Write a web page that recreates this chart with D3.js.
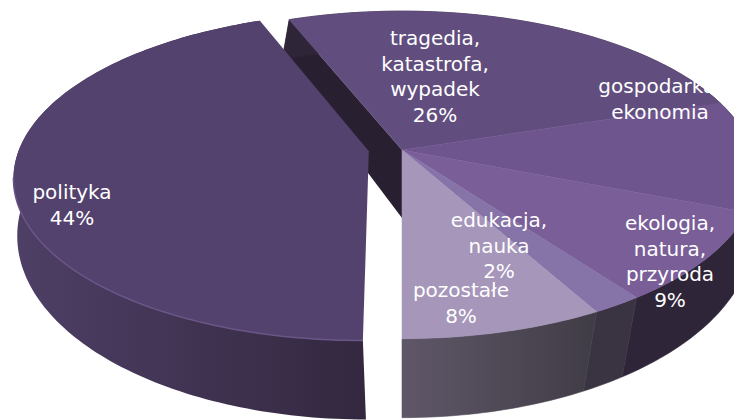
<!DOCTYPE html>
<html lang="pl">
<head>
    <meta charset="UTF-8">
    <title>Tematyka</title>
    <script src="https://d3js.org/d3.v7.min.js"></script>
    <style>
        body { margin: 0; background: #fff; }
        svg { display: block; }
        text { font-family: 'DejaVu Sans', sans-serif; font-size: 20px; fill: #fff; text-anchor: middle; }
    </style>
</head>
<body>
    <svg width="734" height="420"></svg>
    <script>
        // dane, kolejnosc zgodnie z ruchem wskazowek od gory
        const categories = ["tragedia", "gospodarka", "ekologia", "edukacja", "pozostale", "polityka"];
        const values = [26, 11, 9, 2, 8, 44];
        const labels = [
            ["tragedia,", "katastrofa,", "wypadek", "26%"],
            ["gospodarka,", "ekonomia"],
            ["ekologia,", "natura,", "przyroda", "9%"],
            ["edukacja,", "nauka", "2%"],
            ["pozostałe", "8%"],
            ["polityka", "44%"]
        ];

        const topColors = ["#624e7e", "#6f558e", "#7a5e98", "#8673a8", "#a596ba", "#54426e"];
        const wallColors = [
            ["#2f2539", "#2f2539"], ["#2f2539", "#2f2539"], ["#2f2539", "#2f2539"],
            ["#3a3342", "#3a3342"], ["#5f5768", "#403c46"], ["#4e3f66", "#33283f"]
        ];
        const labelX = [435, 660, 670, 499, 461, 72];
        const labelY = [45, 93, 230, 227, 297, 199];
        const lineGap = 25.5;

        const svg = d3.select("svg");
        const defs = svg.append("defs");

        const cx = 402, cy = 150;
        const explode = [0, 0, 0, 0, 0, 0.095];
        const explodeAngle = 265 * Math.PI / 180;

        // rzut perspektywiczny: gorna i dolna plaszczyzna tortu
        function project(X, Y, bottom) {
            if (bottom) {
                const w = 1 + 0.081 * Y;
                return [cx + 350 * X / w, cy + (68 - 178 * Y) / w];
            }
            const w = 1 + 0.152 * Y;
            return [cx + 350 * X / w, cy - 160 * Y / w];
        }

        const pie = d3.pie().sort(null)
            .startAngle(-21.6 * Math.PI / 180)
            .endAngle((360 - 21.6) * Math.PI / 180);
        const arcs = pie(values);
        const line = d3.line();

        function edge(i, a, bottom) {
            const d = explode[i];
            const ox = d * Math.sin(explodeAngle), oy = d * Math.cos(explodeAngle);
            return project(Math.sin(a) + ox, Math.cos(a) + oy, bottom);
        }
        function tip(i, bottom) {
            const d = explode[i];
            return project(d * Math.sin(explodeAngle), d * Math.cos(explodeAngle), bottom);
        }
        function sweep(arc) {
            const n = Math.ceil((arc.endAngle - arc.startAngle) / 0.02);
            return d3.range(n + 1).map(k => arc.startAngle + (arc.endAngle - arc.startAngle) * k / n);
        }

        // gradienty scian bocznych
        arcs.forEach((arc, i) => {
            const xs = sweep(arc).map(a => edge(i, a, false)[0]);
            const g = defs.append("linearGradient").attr("id", "wall" + i)
                .attr("gradientUnits", "userSpaceOnUse")
                .attr("x1", d3.min(xs)).attr("x2", d3.max(xs));
            g.append("stop").attr("offset", 0).attr("stop-color", wallColors[i][0]);
            g.append("stop").attr("offset", 1).attr("stop-color", wallColors[i][1]);
        });

        // sciana przekroju pod tragedia
        const cutA = arcs[0].startAngle;
        svg.append("path")
            .attr("d", line([tip(0, false), edge(0, cutA, false), edge(0, cutA, true), tip(0, true)]) + "Z")
            .attr("fill", "#281f30");

        function drawWall(i) {
            const angles = sweep(arcs[i]);
            const top = angles.map(a => edge(i, a, false));
            const bot = angles.map(a => edge(i, a, true));
            svg.append("path")
                .attr("d", line(top.concat(bot.reverse())) + "Z")
                .attr("fill", `url(#wall${i})`)
                .attr("stroke", i === 5 ? "none" : `url(#wall${i})`)
                .attr("stroke-width", 0.6);
        }
        function drawTop(i) {
            const top = sweep(arcs[i]).map(a => edge(i, a, false));
            svg.append("path")
                .attr("d", line([tip(i, false)].concat(top)) + "Z")
                .attr("fill", topColors[i])
                .attr("stroke", i === 5 ? "none" : topColors[i])
                .attr("stroke-width", 0.5);
        }

        [0, 1, 2, 3, 4].forEach(drawWall);
        [0, 1, 2, 3, 4].forEach(drawTop);
        drawWall(5);
        drawTop(5);

        // jasniejsza krawedz z przodu polityki
        const rimAngles = sweep(arcs[5]).filter(a => a < 262 * Math.PI / 180);
        svg.append("path")
            .attr("d", line(rimAngles.map(a => edge(5, a, false))))
            .attr("fill", "none")
            .attr("stroke", "#6a5587")
            .attr("stroke-width", 1.5);

        // etykiety
        labels.forEach((lines, i) => {
            lines.forEach((t, k) => {
                svg.append("text")
                    .attr("x", labelX[i])
                    .attr("y", labelY[i] + k * lineGap)
                    .text(t);
            });
        });
    </script>
</body>
</html>
